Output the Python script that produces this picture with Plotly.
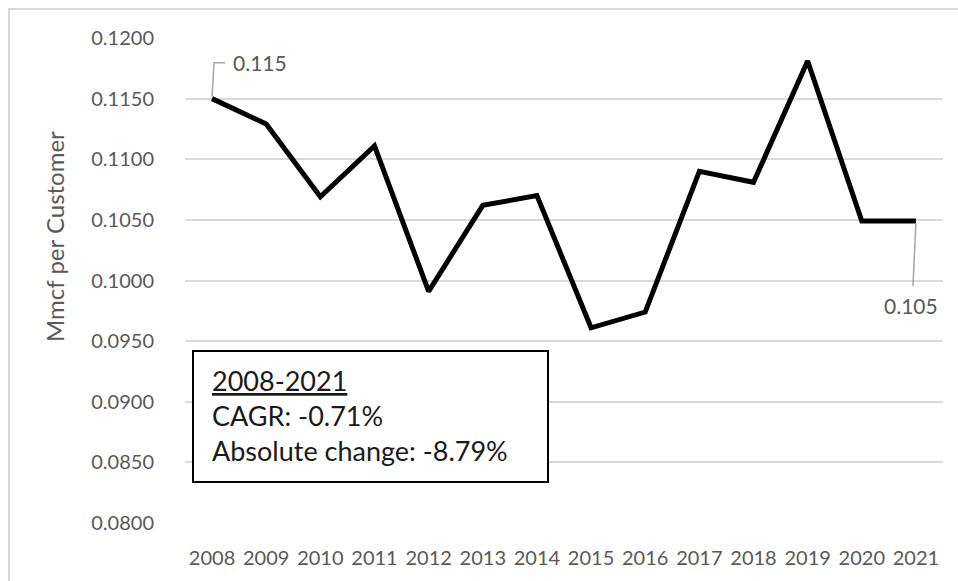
import plotly.graph_objects as go

# ---- data ----
years = ["2008", "2009", "2010", "2011", "2012", "2013", "2014",
         "2015", "2016", "2017", "2018", "2019", "2020", "2021"]
mmcf_per_customer = [0.1150, 0.1129, 0.1069, 0.1111, 0.0991, 0.1062, 0.1070,
                     0.0961, 0.0974, 0.1090, 0.1081, 0.1181, 0.1049, 0.1049]
y_ticks = [0.0800, 0.0850, 0.0900, 0.0950, 0.1000, 0.1050, 0.1100, 0.1150, 0.1200]
first_label = "0.115"
last_label = "0.105"
box_lines = ["<u>2008-2021</u>", "CAGR: -0.71%", "Absolute change: -8.79%"]
y_title = "Mmcf per Customer"

# ---- layout constants (pixels) ----
W, H = 958, 581
L, R, T, B = 185, 15, 38, 58
PW, PH = W - L - R, H - T - B


def px(x):
    return (x - L) / PW


def py(y):
    return (H - B - y) / PH


FONT = "Lato"
GRAY = "#595959"

fig = go.Figure()
fig.add_trace(go.Scatter(
    x=years, y=mmcf_per_customer, mode="lines",
    line=dict(color="black", width=5),
    hoverinfo="skip", showlegend=False,
))

# category positions (index on category axis)
i_first, i_last = 0, len(years) - 1

# data labels with leader lines
fig.add_annotation(x=i_first, y=mmcf_per_customer[i_first], text=first_label,
                   showarrow=False, xshift=48, yshift=36,
                   font=dict(family=FONT, size=21, color=GRAY))
fig.add_annotation(x=i_last, y=mmcf_per_customer[i_last], text=last_label,
                   showarrow=False, xshift=-5, yshift=-84,
                   font=dict(family=FONT, size=21, color=GRAY))
fig.add_shape(type="path", xref="x", yref="y",
              xsizemode="pixel", ysizemode="pixel",
              xanchor=i_first, yanchor=mmcf_per_customer[i_first],
              path="M 0,2 L 2,36 L 13,36",
              line=dict(color="#a6a6a6", width=1.5))
fig.add_shape(type="path", xref="x", yref="y",
              xsizemode="pixel", ysizemode="pixel",
              xanchor=i_last, yanchor=mmcf_per_customer[i_last],
              path="M 0,-2 L -3,-65",
              line=dict(color="#a6a6a6", width=1.5))

# text box
fig.add_shape(type="rect", xref="paper", yref="paper",
              x0=px(193), x1=px(548), y0=py(482), y1=py(351),
              line=dict(color="black", width=2), fillcolor="white")
fig.add_annotation(xref="paper", yref="paper", x=px(210), y=py(415),
                   xanchor="left", yanchor="middle", align="left",
                   text="<br>".join(box_lines), showarrow=False,
                   font=dict(family=FONT, size=27, color="#1a1a1a"))

# y title
fig.add_annotation(xref="paper", yref="paper", x=px(54), y=py(237),
                   xanchor="center", yanchor="middle",
                   text=y_title, textangle=-90, showarrow=False,
                   font=dict(family=FONT, size=24, color=GRAY))

# outer border (only top/left visible)
fig.add_shape(type="rect", xref="paper", yref="paper", layer="above",
              x0=px(9), x1=px(W + 10), y0=py(H + 10), y1=py(9),
              line=dict(color="#d9d9d9", width=2))

fig.update_layout(
    width=W, height=H,
    margin=dict(l=L, r=R, t=T, b=B),
    paper_bgcolor="white", plot_bgcolor="white",
    font=dict(family=FONT, color=GRAY),
    xaxis=dict(type="category", range=[-0.5, len(years) - 0.5],
               showgrid=False, showline=False, zeroline=False,
               ticks="", ticklabelstandoff=21,
               tickfont=dict(family=FONT, size=20, color=GRAY),
               fixedrange=True),
    yaxis=dict(range=[0.08, 0.12], tickvals=y_ticks, tickformat=".4f",
               showgrid=True, gridcolor="#d9d9d9", gridwidth=1.5,
               showline=False, zeroline=False, ticks="",
               ticklabelstandoff=30,
               tickfont=dict(family=FONT, size=20, color=GRAY),
               fixedrange=True),
)

fig.write_html("out.html")
